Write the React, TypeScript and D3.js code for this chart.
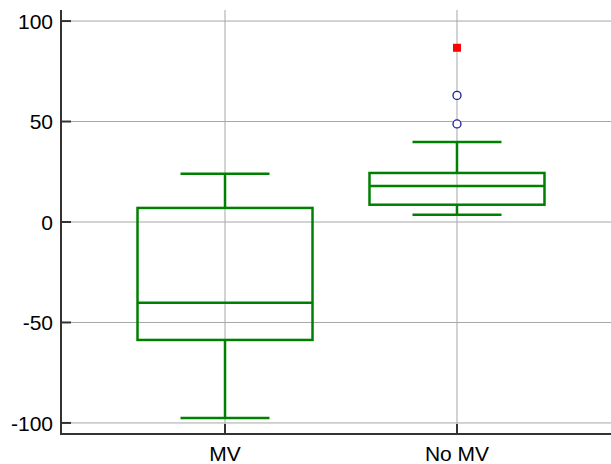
import React from "react";
import * as d3 from "d3";

const categories = ["MV", "No MV"];
const whiskerLow = [-97.5, 3.6];
const q1 = [-58.7, 8.6];
const median = [-40.2, 17.9];
const q3 = [7.0, 24.4];
const whiskerHigh = [24.0, 39.8];
const outlierCat = ["No MV", "No MV"];
const outlierVal = [48.8, 63.0];
const farOutlierCat = ["No MV"];
const farOutlierVal = [86.7];
const yTicks = [-100, -50, 0, 50, 100];

const W = 611, H = 464;
const left = 61, axisY = 434, top = 10;

export default function App() {
  const y = d3.scaleLinear().domain([-105.5, 105.5]).range([axisY, top]);
  const x = d3.scalePoint<string>().domain(categories).range([left, 621]).padding(0.707);
  const boxW = 175;
  const capW = 89;
  const green = "#008000";
  return (
    <svg width={W} height={H} style={{ position: "absolute", left: 0, top: 0 }} fontFamily="Liberation Sans, Arial, sans-serif">
      <rect width={W} height={H} fill="#fff" />
      {yTicks.map((t) => (
        <line key={"g" + t} x1={left} x2={W} y1={y(t)} y2={y(t)} stroke="#a6a6a6" strokeWidth={1} />
      ))}
      {categories.map((c) => (
        <line key={"gv" + c} x1={x(c)} x2={x(c)} y1={top} y2={axisY} stroke="#a6a6a6" strokeWidth={1} />
      ))}
      {categories.map((c, i) => {
        const cx = x(c)!;
        return (
          <g key={c} stroke={green} strokeWidth={2.5} fill="none">
            <line x1={cx} x2={cx} y1={y(whiskerHigh[i])} y2={y(q3[i])} />
            <line x1={cx} x2={cx} y1={y(q1[i])} y2={y(whiskerLow[i])} />
            <line x1={cx - capW / 2} x2={cx + capW / 2} y1={y(whiskerHigh[i])} y2={y(whiskerHigh[i])} />
            <line x1={cx - capW / 2} x2={cx + capW / 2} y1={y(whiskerLow[i])} y2={y(whiskerLow[i])} />
            <rect x={cx - boxW / 2} y={y(q3[i])} width={boxW} height={y(q1[i]) - y(q3[i])} />
            <line x1={cx - boxW / 2} x2={cx + boxW / 2} y1={y(median[i])} y2={y(median[i])} />
          </g>
        );
      })}
      {outlierVal.map((v, i) => (
        <circle key={"o" + i} cx={x(outlierCat[i])} cy={y(v)} r={4} fill="#fff" stroke="#1c1c99" strokeWidth={1.3} />
      ))}
      {farOutlierVal.map((v, i) => (
        <rect key={"f" + i} x={x(farOutlierCat[i])! - 4} y={y(v) - 4} width={8} height={8} fill="#ff0000" />
      ))}
      <line x1={left} x2={left} y1={top} y2={axisY + 1} stroke="#333" strokeWidth={2} />
      <line x1={left - 1} x2={W} y1={axisY} y2={axisY} stroke="#333" strokeWidth={2} />
      {yTicks.map((t) => (
        <g key={"t" + t}>
          <line x1={left} x2={left + 10} y1={y(t)} y2={y(t)} stroke="#333" strokeWidth={2} />
          <text x={53} y={y(t)} dy="0.36em" textAnchor="end" fontSize={21} fill="#000">{t}</text>
        </g>
      ))}
      {categories.map((c) => (
        <g key={"xt" + c}>
          <line x1={x(c)} x2={x(c)} y1={axisY - 10} y2={axisY} stroke="#333" strokeWidth={2} />
          <text x={x(c)} y={461} textAnchor="middle" fontSize={21} fill="#000">{c}</text>
        </g>
      ))}
    </svg>
  );
}
